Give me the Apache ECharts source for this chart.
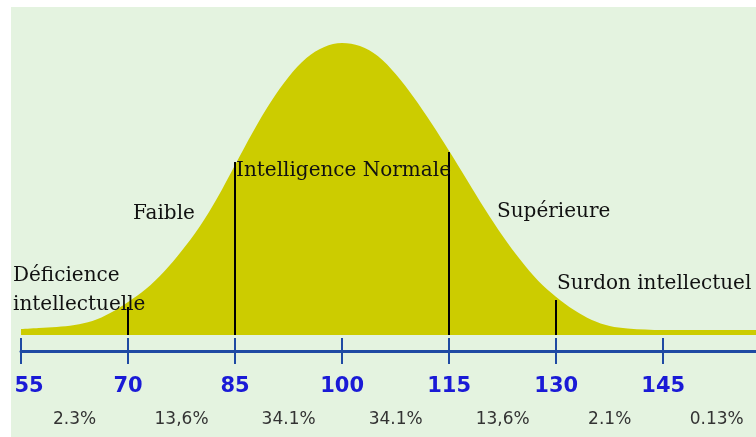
<!DOCTYPE html>
<html>
<head>
<meta charset="utf-8">
<script src="https://cdn.jsdelivr.net/npm/echarts@6/dist/echarts.min.js"></script>
<style>html,body{margin:0;padding:0;background:#fff}#c{width:756px;height:437px}</style>
</head>
<body>
<div id="c"></div>
<script>
// IQ values along the curve and the curve's height
const iqValues = [55,57.5,60,62.5,65,67.5,70,72.5,75,77.5,80,82.5,85,87.5,90,92.5,95,97.5,100,102.5,105,107.5,110,112.5,115,117.5,120,122.5,125,127.5,130,132.5,135,137.5,140,145,150,158];
const curveHeights = [6,7,8,10,14,22,33,46,63,84,108,137,170,203,233,258,277,288,292,289,279,261,238,212,184,155,126,99,75,54,38,25,15,9,6.5,5,5,5];
// Axis tick labels
const tickValues = [55,70,85,100,115,130,145];
// Percentages for each band
const bandCenters = [62.5,77.5,92.5,107.5,122.5,137.5,152.5];
const bandPercents = ['2.3%','13,6%','34.1%','34.1%','13,6%','2.1%','0.13%'];
// Divider lines: position and height
const dividerX = [70,85,115,130];
const dividerH = [28,173,183,35];
// Region names
const regionNames = ['Déficience','intellectuelle','Faible','Intelligence Normale','Supérieure','Surdon intellectuel'];

const chart = echarts.init(document.getElementById('c'), null, {renderer:'canvas'});
const serif = 'DejaVu Serif';
const textEls = [
  {name: regionNames[0], x: 13, y: 276},
  {name: regionNames[1], x: 13, y: 305},
  {name: regionNames[2], x: 133, y: 214},
  {name: regionNames[3], x: 236, y: 171},
  {name: regionNames[4], x: 497, y: 212},
  {name: regionNames[5], x: 557, y: 284}
].map(t => ({
  type: 'text', z: 100, silent: true,
  style: {text: t.name, x: t.x, y: t.y, fill: '#111', font: '20px "' + serif + '"', verticalAlign: 'middle', align: 'left'}
}));

const baseAxis = {
  type: 'value', min: 55, max: 158, position: 'bottom', offset: 16,
  splitLine: {show: false}
};
const tickFont = {color: '#1a1ad6', fontWeight: 'bold', fontFamily: 'DejaVu Sans', fontSize: 21};

const option = {
  backgroundColor: '#ffffff',
  animation: false,
  graphic: [
    {type: 'rect', z: -100, silent: true, shape: {x: 11, y: 7, width: 745, height: 430}, style: {fill: '#e4f3e0'}}
  ].concat(textEls),
  grid: {left: 21, right: 0, top: 7, bottom: 102, containLabel: false},
  xAxis: [
    Object.assign({}, baseAxis, {
      axisLine: {show: true, onZero: false, lineStyle: {color: '#1f4aa3', width: 3}},
      axisTick: {show: true, customValues: tickValues, length: 13, inside: false, lineStyle: {color: '#1f4aa3', width: 2}},
      axisLabel: Object.assign({
        show: true, customValues: tickValues, margin: 25,
        formatter: v => v === tickValues[0] ? '{first|' + v + '}' : String(v),
        rich: {first: Object.assign({padding: [0, 0, 0, 16]}, tickFont)}
      }, tickFont)
    }),
    Object.assign({}, baseAxis, {
      axisLine: {show: false, onZero: false},
      axisTick: {show: true, customValues: tickValues, length: 13, inside: true, lineStyle: {color: '#1f4aa3', width: 2}},
      axisLabel: {show: false}
    }),
    Object.assign({}, baseAxis, {
      axisLine: {show: false, onZero: false},
      axisTick: {show: false},
      axisLabel: {
        show: true, customValues: bandCenters, margin: 60, color: '#333', fontFamily: 'DejaVu Sans', fontSize: 17,
        formatter: v => { const i = bandCenters.indexOf(v); return i >= 0 ? bandPercents[i] : ''; }
      }
    })
  ],
  yAxis: {type: 'value', min: 0, max: 328, show: false, splitLine: {show: false}},
  series: [
    {
      type: 'line', xAxisIndex: 0,
      data: iqValues.map((x, i) => [x, curveHeights[i]]),
      smooth: 0.35, showSymbol: false, silent: true,
      lineStyle: {width: 0},
      areaStyle: {color: '#cccc00', opacity: 1},
      markLine: {
        silent: true, symbol: 'none', animation: false,
        label: {show: false},
        lineStyle: {color: '#000', width: 2, type: 'solid'},
        data: dividerX.map((x, i) => [{coord: [x, 0]}, {coord: [x, dividerH[i]]}])
      }
    }
  ]
};
chart.setOption(option);
</script>
</body>
</html>
